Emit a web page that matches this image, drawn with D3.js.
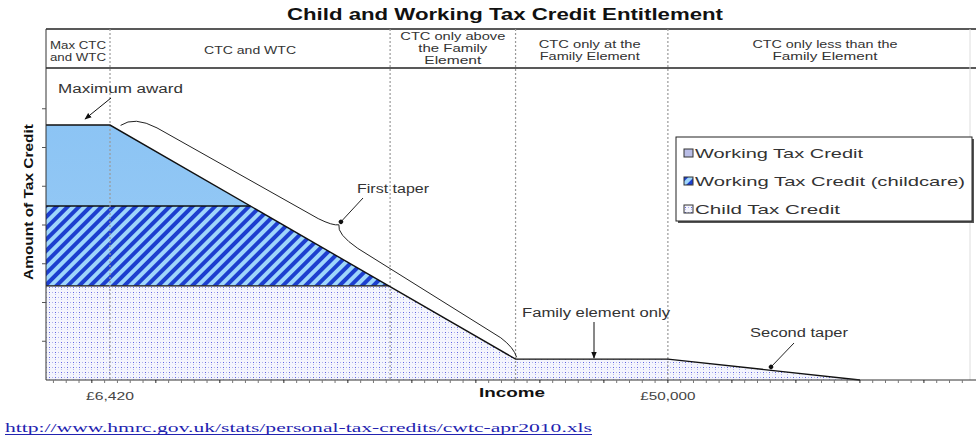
<!DOCTYPE html>
<html>
<head>
<meta charset="utf-8">
<script src="https://cdn.jsdelivr.net/npm/d3@7"></script>
<style>
  html, body { margin: 0; padding: 0; background: #fff; }
  svg { display: block; }
  text { font-family: "Liberation Sans", Arial, sans-serif; }
  text.src { font-family: "Liberation Serif", "Times New Roman", serif; }
</style>
</head>
<body>
<svg id="chart" width="976" height="437"></svg>
<script>
// ---------- data ----------
const title = "Child and Working Tax Credit Entitlement";
const sectionLabels = [
  ["Max CTC", "and WTC"],
  ["CTC and WTC"],
  ["CTC only above", "the Family", "Element"],
  ["CTC only at the", "Family Element"],
  ["CTC only less than the", "Family Element"]
];
const sectionBounds = [6420, 28300, 38100, 50000];       // income at dotted dividers
const entitlementIncome = [1420, 6420, 38100, 50000, 65000, 73600];
const entitlementAmount = [6.58, 6.58, 0.54, 0.54, 0, 0];
const seriesNames = ["Working Tax Credit", "Working Tax Credit (childcare)", "Child Tax Credit"];
const bandLow  = [4.49, 2.43, 0];
const bandHigh = [6.58, 4.49, 2.43];
const xTickLabels = ["£6,420", "£50,000"];
const xTickValues = [6420, 50000];
const yTicks = [0, 1, 2, 3, 4, 5, 6, 7];
const annotations = ["Maximum award", "First taper", "Family element only", "Second taper"];
const sourceUrl = "http://www.hmrc.gov.uk/stats/personal-tax-credits/cwtc-apr2010.xls";

// ---------- setup ----------
const svg = d3.select("#chart");
const L = 46, R = 970, T = 29, HB = 68, B = 380;
const x = d3.scaleLinear().domain([1420, 73600]).range([L, R]);
const y = d3.scaleLinear().domain([0, 8]).range([B, 70]);

const fit = (sel, w) => sel.attr("textLength", w).attr("lengthAdjust", "spacingAndGlyphs");

const defs = svg.append("defs");
// WTC solid
const gWTC = defs.append("linearGradient").attr("id", "gWTC").attr("x1", 0).attr("x2", 0).attr("y1", 0).attr("y2", 1);
gWTC.append("stop").attr("offset", "0%").attr("stop-color", "#8cc4f4");
gWTC.append("stop").attr("offset", "100%").attr("stop-color", "#9ccdf6");
// childcare stripes
const pStripe = defs.append("pattern").attr("id", "pStripe").attr("patternUnits", "userSpaceOnUse")
  .attr("width", 8).attr("height", 8).attr("patternTransform", "rotate(45)");
pStripe.append("rect").attr("width", 8).attr("height", 8).attr("fill", "#9fd6fb");
pStripe.append("rect").attr("width", 4).attr("height", 8).attr("fill", "#1d3fcf");
// CTC dots
const pDot = defs.append("pattern").attr("id", "pDot").attr("patternUnits", "userSpaceOnUse")
  .attr("width", 6).attr("height", 5);
pDot.append("rect").attr("width", 6).attr("height", 5).attr("fill", "#f4f5fd");
pDot.append("rect").attr("x", 1).attr("y", 2).attr("width", 1).attr("height", 1).attr("fill", "#5f63e4");
pDot.append("rect").attr("x", 4).attr("y", 2).attr("width", 1).attr("height", 1).attr("fill", "#aeb1ee");
pDot.append("rect").attr("x", 1).attr("y", 4).attr("width", 1).attr("height", 1).attr("fill", "#b8bbf0");

const fills = ["url(#gWTC)", "url(#pStripe)", "url(#pDot)"];

// ---------- title ----------
svg.append("text").attr("x", 505).attr("y", 20).attr("text-anchor", "middle")
  .attr("font-size", 16).attr("font-weight", "bold").attr("fill", "#111").text(title)
  .call(fit, 436);

// ---------- header band ----------
svg.append("line").attr("x1", L).attr("x2", 976).attr("y1", T).attr("y2", T).attr("stroke", "#222").attr("stroke-width", 1.3);
svg.append("line").attr("x1", L).attr("x2", 976).attr("y1", HB).attr("y2", HB).attr("stroke", "#222").attr("stroke-width", 1.3);
svg.append("line").attr("x1", R).attr("x2", R).attr("y1", T).attr("y2", B).attr("stroke", "#ddd");

const bounds = [x.domain()[0], ...sectionBounds, x.domain()[1]];
const hdrStyle = [
  {left: true, base: 49, w: [56, 56]},
  {base: 54, w: [92]},
  {base: 40, w: [105, 69, 57]},
  {base: 48, w: [102, 100]},
  {base: 48, w: [145, 105]}
];
sectionLabels.forEach((lines, i) => {
  const st = hdrStyle[i];
  const cx = (x(bounds[i]) + x(bounds[i + 1])) / 2;
  const gap = i === 2 ? 12 : 11.5;
  lines.forEach((ln, j) => {
    const t = svg.append("text").attr("font-size", 10).attr("fill", "#333")
      .attr("y", st.base + j * gap).text(ln);
    if (st.left) t.attr("x", L + 4).attr("text-anchor", "start");
    else t.attr("x", cx + (i === 3 ? -2 : i === 4 ? 6 : 0)).attr("text-anchor", "middle");
    t.call(fit, st.w[j]);
  });
});

// ---------- areas ----------
const pts = entitlementIncome.map((v, i) => [v, entitlementAmount[i]]);
const area = d3.area().x(d => x(d[0])).y0(y(0)).y1(d => y(d[1]));
seriesNames.forEach((name, i) => {
  const cid = "clip" + i;
  defs.append("clipPath").attr("id", cid).append("rect")
    .attr("x", L).attr("width", R - L)
    .attr("y", y(bandHigh[i])).attr("height", y(bandLow[i]) - y(bandHigh[i]));
  svg.append("path").datum(pts).attr("d", area).attr("fill", fills[i]).attr("clip-path", `url(#${cid})`);
});

// band boundary lines
[bandLow[0], bandLow[1]].forEach(v => {
  const cross = pts.findIndex((p, k) => k > 0 && p[1] < v);
  const a = pts[cross - 1], b = pts[cross];
  const xi = a[0] + (v - a[1]) / (b[1] - a[1]) * (b[0] - a[0]);
  svg.append("line").attr("x1", L).attr("x2", x(xi)).attr("y1", y(v)).attr("y2", y(v))
    .attr("stroke", "#111").attr("stroke-width", 1.3);
});

// dotted dividers
sectionBounds.forEach(v => {
  svg.append("line").attr("x1", x(v)).attr("x2", x(v)).attr("y1", T).attr("y2", B)
    .attr("stroke", "#999").attr("stroke-width", 1.2).attr("stroke-dasharray", "2,2");
});

// entitlement line
svg.append("path").datum(pts.slice(0, 5))
  .attr("d", d3.line().x(d => x(d[0])).y(d => y(d[1])))
  .attr("fill", "none").attr("stroke", "#111").attr("stroke-width", 1.4);

// ---------- axes ----------
svg.append("line").attr("x1", L).attr("x2", L).attr("y1", T).attr("y2", B).attr("stroke", "#333");
svg.append("line").attr("x1", L).attr("x2", 976).attr("y1", B).attr("y2", B).attr("stroke", "#333");
svg.selectAll(".yt").data(yTicks.slice(1)).join("line")
  .attr("x1", L - 4).attr("x2", L).attr("y1", d => y(d)).attr("y2", d => y(d)).attr("stroke", "#555");
svg.selectAll(".xt").data(d3.range(2000, 74000, 1000)).join("line")
  .attr("x1", d => x(d)).attr("x2", d => x(d)).attr("y1", B).attr("y2", B + 3)
  .attr("stroke", (d, i) => i % 5 === 3 ? "#222" : "#777");
xTickLabels.forEach((lab, i) => {
  svg.append("text").attr("x", x(xTickValues[i])).attr("y", 400).attr("text-anchor", "middle")
    .attr("font-size", 11).attr("fill", "#444").text(lab).call(fit, i === 0 ? 48 : 55);
});
svg.append("text").attr("x", 512).attr("y", 397).attr("text-anchor", "middle")
  .attr("font-size", 13).attr("font-weight", "bold").attr("fill", "#111").text("Income").call(fit, 66);
svg.append("text").attr("transform", "translate(33,202) rotate(-90)").attr("text-anchor", "middle")
  .attr("font-size", 13).attr("font-weight", "bold").attr("fill", "#111").text("Amount of Tax Credit").call(fit, 156);

// ---------- annotations ----------
const mk = defs.append("marker").attr("id", "arr").attr("viewBox", "0 0 10 10").attr("refX", 9).attr("refY", 5)
  .attr("markerWidth", 7).attr("markerHeight", 7).attr("orient", "auto");
mk.append("path").attr("d", "M0,1 L10,5 L0,9 Z").attr("fill", "#111");
const dm = defs.append("marker").attr("id", "dot").attr("viewBox", "0 0 10 10").attr("refX", 5).attr("refY", 5)
  .attr("markerWidth", 5).attr("markerHeight", 5).attr("orient", "auto");
dm.append("circle").attr("cx", 5).attr("cy", 5).attr("r", 4.5).attr("fill", "#111");

function ann(txt, xx, yy, w) {
  svg.append("text").attr("x", xx).attr("y", yy).attr("font-size", 12).attr("fill", "#333")
    .text(txt).call(fit, w);
}
// Maximum award
ann(annotations[0], 58, 93, 125);
svg.append("line").attr("x1", x(6420) + 1).attr("y1", 98).attr("x2", x(6420) - 25).attr("y2", y(6.58) - 6)
  .attr("stroke", "#111").attr("marker-end", "url(#arr)");

// First taper brace
const A = [x(6420), y(6.58)], Bp = [x(38100), y(0.54)];
const len = Math.hypot(Bp[0] - A[0], Bp[1] - A[1]);
const nrm = [(Bp[1] - A[1]) / len, -(Bp[0] - A[0]) / len];
const P = (t, off) => [A[0] + t * (Bp[0] - A[0]) + off * nrm[0], A[1] + t * (Bp[1] - A[1]) + off * nrm[1]];
const p = (a) => a[0].toFixed(1) + "," + a[1].toFixed(1);
const tT = 0.53, tOff = 28;
const brace = `M${p(P(0.02, 5))} Q${p(P(0.035, 20))} ${p(P(0.09, 21))} L${p(P(tT - 0.045, 23))} Q${p(P(tT - 0.01, 24))} ${p(P(tT, tOff))}`
  + ` Q${p(P(tT + 0.006, 19))} ${p(P(tT + 0.06, 17))} L${p(P(0.95, 11))} Q${p(P(0.985, 9))} ${p(P(1.0, 2))}`;
svg.append("path").attr("d", brace).attr("fill", "none").attr("stroke", "#222").attr("stroke-width", 1);
ann(annotations[1], 357, 193, 72);
const tip = P(tT, tOff);
svg.append("line").attr("x1", 363).attr("y1", 198).attr("x2", tip[0] + 2).attr("y2", tip[1] - 3)
  .attr("stroke", "#222").attr("marker-end", "url(#dot)");

// Family element only
ann(annotations[2], 522, 317, 148);
svg.append("line").attr("x1", 594).attr("y1", 322).attr("x2", 594).attr("y2", y(0.54) - 1)
  .attr("stroke", "#111").attr("marker-end", "url(#arr)");

// Second taper
ann(annotations[3], 750, 337, 98);
svg.append("line").attr("x1", 794).attr("y1", 343).attr("x2", 771).attr("y2", 367)
  .attr("stroke", "#222").attr("marker-end", "url(#dot)");

// ---------- legend ----------
const lg = svg.append("g");
lg.append("rect").attr("x", 678).attr("y", 139).attr("width", 296).attr("height", 84).attr("fill", "#555");
lg.append("rect").attr("x", 676).attr("y", 137).attr("width", 296).attr("height", 84)
  .attr("fill", "#fff").attr("stroke", "#222").attr("stroke-width", 1);
const legFills = ["#b9bde6", "url(#pStripe)", "url(#pDot)"];
const legW = [168, 270, 145];
seriesNames.forEach((name, i) => {
  const yy = 153 + i * 28;
  lg.append("rect").attr("x", 684).attr("y", yy - 4).attr("width", 9).attr("height", 8)
    .attr("fill", legFills[i]).attr("stroke", "#333").attr("stroke-width", 1);
  lg.append("text").attr("x", 695).attr("y", yy + 5).attr("font-size", 13).attr("fill", "#333")
    .text(name).call(fit, legW[i]);
});

// ---------- source ----------
svg.append("text").attr("class", "src").attr("x", 5).attr("y", 432)
  .attr("font-size", 13).attr("fill", "#2323b0")
  .text(sourceUrl).call(fit, 587);
svg.append("line").attr("x1", 5).attr("x2", 592).attr("y1", 434.5).attr("y2", 434.5).attr("stroke", "#2323b0");
</script>
</body>
</html>
